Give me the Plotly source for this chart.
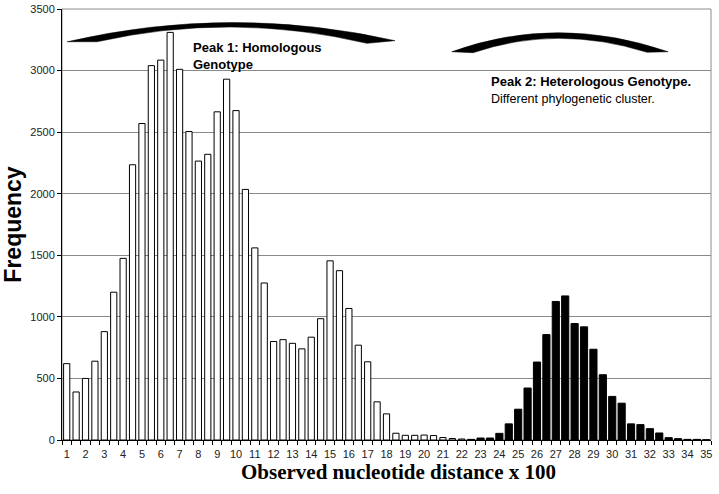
import plotly.graph_objects as go

# ---------------------------------------------------------------
# data (distance x 100 in steps of 0.5)
# ---------------------------------------------------------------
dist_homolog = [1 + 0.5 * i for i in range(43)]          # 1.0 .. 22.0
freq_homolog = [620, 390, 500, 640, 880, 1200, 1475, 2235, 2570, 3040,
                3085, 3310, 3010, 2505, 2265, 2320, 2665, 2930, 2675, 2035,
                1560, 1275, 800, 815, 785, 740, 835, 985, 1455, 1375,
                1068, 770, 635, 310, 212, 55, 38, 38, 40, 36,
                20, 12, 8]

dist_heterolog = [22.5 + 0.5 * i for i in range(26)]     # 22.5 .. 35.0
freq_heterolog = [5, 16, 16, 54, 131, 250, 422, 633, 856, 1125,
                  1170, 946, 919, 737, 530, 354, 299, 131, 125, 92,
                  57, 19, 11, 5, 5, 2]

tick_vals = list(range(1, 36))
y_ticks = [0, 500, 1000, 1500, 2000, 2500, 3000, 3500]

SANS = "Arial, Liberation Sans, sans-serif"
SERIF = "Times New Roman, Liberation Serif, serif"

fig = go.Figure()

fig.add_trace(go.Bar(
    x=dist_homolog, y=freq_homolog, width=0.33,
    marker=dict(color="white", line=dict(color="black", width=1)),
    showlegend=False,
))
fig.add_trace(go.Bar(
    x=dist_heterolog, y=freq_heterolog, width=0.38,
    marker=dict(color="black", line=dict(color="black", width=1)),
    showlegend=False,
))

# crescent-shaped arcs over the two peaks
fig.add_shape(type="path", xref="x", yref="y", layer="above",
              path="M 1.02,3234 Q 9.73,3542 18.45,3243 L 16.96,3221 "
                   "Q 9.79,3480 2.61,3234 Z",
              fillcolor="black", line=dict(color="black", width=0.5))
fig.add_shape(type="path", xref="x", yref="y", layer="above",
              path="M 21.47,3153 Q 27.08,3462 32.97,3153 L 31.85,3148 "
                   "Q 27.08,3377 22.6,3145 Z",
              fillcolor="black", line=dict(color="black", width=0.5))

# light frame round the plot area
fig.add_shape(type="rect", xref="paper", yref="paper", x0=0, x1=1, y0=0, y1=1,
              line=dict(color="#8a8a8a", width=1), layer="below")

fig.add_annotation(x=7.63, y=3262, xref="x", yref="y", xanchor="left", yanchor="top",
                   align="left", showarrow=False,
                   text="<b>Peak 1: Homologous<br>Genotype</b>",
                   font=dict(family=SANS, size=13, color="black"))
fig.add_annotation(x=23.45, y=2985, xref="x", yref="y", xanchor="left", yanchor="top",
                   align="left", showarrow=False,
                   text="<b>Peak 2: Heterologous Genotype.</b><br>"
                        "<span style='font-size:12.5px'>Different phylogenetic cluster.</span>",
                   font=dict(family=SANS, size=13, color="black"))

# x-axis title, set a little right of the plot centre as in the original
fig.add_annotation(x=0.518, y=-0.074, xref="paper", yref="paper",
                   xanchor="center", yanchor="middle", showarrow=False,
                   text="<b>Observed nucleotide distance x 100</b>",
                   font=dict(family=SERIF, size=21, color="black"))

fig.update_layout(
    width=719, height=494,
    margin=dict(l=62, r=8, t=9, b=54),
    paper_bgcolor="white", plot_bgcolor="white",
    barmode="overlay",
    font=dict(family=SANS, size=11, color="#222"),
)

fig.update_xaxes(
    range=[0.75, 35.25], tickvals=tick_vals, ticktext=[str(v) for v in tick_vals],
    ticks="", showgrid=False, zeroline=False, automargin=False,
    showline=True, linecolor="black", linewidth=1,
    tickfont=dict(family=SANS, size=11, color="#222"), ticklabelstandoff=4,
    minor=dict(tick0=0.75, dtick=0.5, ticks="outside", ticklen=4,
               tickcolor="black", showgrid=False),
)
fig.update_yaxes(
    range=[0, 3500], tickvals=y_ticks, automargin=False,
    ticks="outside", ticklen=4, tickcolor="black",
    showgrid=True, gridcolor="#8a8a8a", gridwidth=1, zeroline=False,
    showline=True, linecolor="black", linewidth=1,
    tickfont=dict(family=SANS, size=11, color="#222"),
    title=dict(text="<b>Frequency</b>",
               font=dict(family=SANS, size=23, color="black"), standoff=4),
)

# drop the browser's default body margin so the figure sits at the page corner
fig.write_html("out.html", config={"displayModeBar": False},
               post_script="document.body.style.margin = '0';")
